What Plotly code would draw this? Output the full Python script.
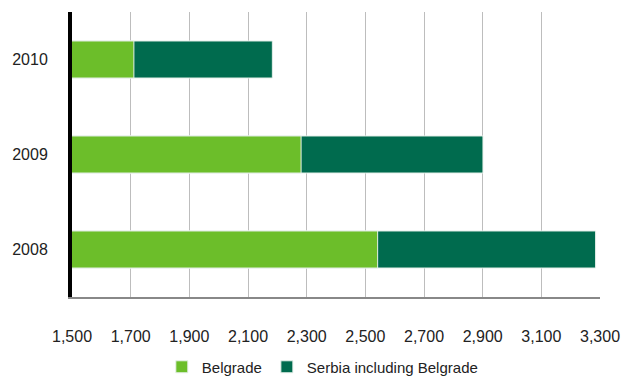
import plotly.graph_objects as go

years = ["2008", "2009", "2010"]
belgrade = [2542, 2281, 1711]
serbia = [3285, 2901, 2183]
x_ticks = [1500, 1700, 1900, 2100, 2300, 2500, 2700, 2900, 3100, 3300]
x_tick_labels = ["1,500", "1,700", "1,900", "2,100", "2,300", "2,500", "2,700", "2,900", "3,100", "3,300"]

FONT = "Liberation Sans Narrow, Liberation Sans, Arial, sans-serif"
LIGHT = "#6CBE2A"
DARK = "#006B4E"

fig = go.Figure()
fig.add_trace(go.Bar(
    y=years, x=serbia, orientation="h", name="Serbia including Belgrade",
    marker=dict(color=DARK, line=dict(color="#E6F0EA", width=1)), legendrank=2,
))
fig.add_trace(go.Bar(
    y=years, x=belgrade, orientation="h", name="Belgrade",
    marker=dict(color=LIGHT, line=dict(color="#E6F0EA", width=1)), legendrank=1,
))

fig.update_layout(
    width=632, height=378,
    margin=dict(l=72, r=32, t=12, b=81),
    paper_bgcolor="white", plot_bgcolor="white",
    barmode="overlay", bargap=0.61,
    font=dict(family=FONT, size=16, color="#222222"),
    legend=dict(orientation="h", xref="container", yref="container",
                x=0.51, xanchor="center", y=0.029, yanchor="middle",
                font=dict(family=FONT, size=15, color="#222222"),
                itemwidth=30, traceorder="normal"),
    xaxis=dict(range=[1500, 3300], tickvals=x_ticks, ticktext=x_tick_labels,
               showgrid=True, gridcolor="#BDBDBD", gridwidth=1,
               showline=True, linecolor="#888888", linewidth=2,
               zeroline=False, ticks="", ticklabelstandoff=24, automargin=False),
    yaxis=dict(type="category", categoryorder="array", categoryarray=years,
               showgrid=False, showline=True, linecolor="#000000", linewidth=4,
               zeroline=False, ticks="", ticklabelstandoff=17, automargin=False),
)

fig.write_html("out.html")
